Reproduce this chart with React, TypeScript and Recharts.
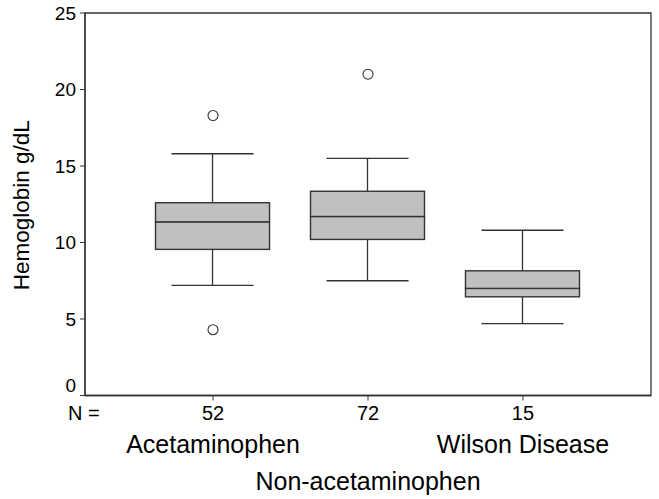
import React from 'react';
import { ComposedChart, Bar, Scatter, XAxis, YAxis, ReferenceArea } from 'recharts';

const categories = ['Acetaminophen', 'Non-acetaminophen', 'Wilson Disease'];
const nCounts = [52, 72, 15];
const whiskerLow = [7.2, 7.5, 4.7];
const q1Values = [9.55, 10.2, 6.45];
const medianValues = [11.35, 11.7, 7.0];
const q3Values = [12.6, 13.35, 8.15];
const whiskerHigh = [15.8, 15.5, 10.8];
const outlierGroup = [1, 1, 2];
const outlierValues = [18.3, 4.3, 21.0];
const yTicks = [0, 5, 10, 15, 20, 25];
const nameRow = [0, 1, 0];

const data = categories.map((c, i) => ({
  x: i + 1,
  name: c,
  n: nCounts[i],
  base: whiskerLow[i],
  lowW: q1Values[i] - whiskerLow[i],
  lowBox: medianValues[i] - q1Values[i],
  highBox: q3Values[i] - medianValues[i],
  highW: whiskerHigh[i] - q3Values[i],
}));

const outliers = outlierGroup.map((g, i) => ({ x: g, y: outlierValues[i] }));

const FONT = '"Liberation Sans", Arial, sans-serif';
const LINE = '#333';
const X_DOMAIN: [number, number] = [0.174, 3.826];

const LowWhisker = (props: any) => {
  const { x, y, width, height } = props;
  const cx = x + width / 2;
  const cap = width * 0.36;
  return (
    <g>
      <line x1={cx} x2={cx} y1={y} y2={y + height} stroke={LINE} strokeWidth={1.3} />
      <line x1={cx - cap} x2={cx + cap} y1={y + height} y2={y + height} stroke={LINE} strokeWidth={1.3} />
    </g>
  );
};

const HighWhisker = (props: any) => {
  const { x, y, width, height } = props;
  const cx = x + width / 2;
  const cap = width * 0.36;
  return (
    <g>
      <line x1={cx} x2={cx} y1={y} y2={y + height} stroke={LINE} strokeWidth={1.3} />
      <line x1={cx - cap} x2={cx + cap} y1={y} y2={y} stroke={LINE} strokeWidth={1.3} />
    </g>
  );
};

const BoxPart = (props: any) => {
  const { x, y, width, height } = props;
  return <rect x={x} y={y} width={width} height={height} fill="#c0c0c0" stroke={LINE} strokeWidth={1.4} />;
};

const Outlier = (props: any) => {
  const { cx, cy } = props;
  return <circle cx={cx} cy={cy} r={5} fill="#fff" stroke={LINE} strokeWidth={1.1} />;
};

const XTick = (props: any) => {
  const { x, y, payload, index } = props;
  const i = Math.round(payload.value) - 1;
  const row = nameRow[i];
  return (
    <g fontFamily={FONT} fill="#000">
      {index === 0 && (
        <text x={68} y={y + 17} fontSize={20} textAnchor="start" fill="#000">
          N =
        </text>
      )}
      <text x={x} y={y + 17} fontSize={20} textAnchor="middle" fill="#000">
        {nCounts[i]}
      </text>
      <text x={x} y={y + (row === 0 ? 50 : 87)} fontSize={25} textAnchor="middle" fill="#000">
        {categories[i]}
      </text>
    </g>
  );
};

const YTick = (props: any) => {
  const { x, y, payload } = props;
  const shift = payload.value === 0 ? -10 : 0;
  return (
    <text
      x={x}
      y={y + shift}
      textAnchor="end"
      dominantBaseline="central"
      fontSize={19}
      fontFamily={FONT}
      fill="#000"
    >
      {payload.value}
    </text>
  );
};

const YTitle = (props: any) => {
  const vb = props.viewBox || { x: 25, y: 13, width: 60, height: 382 };
  const cx = vb.x - 4;
  const cy = vb.y + vb.height / 2 + 1;
  return (
    <text
      x={cx}
      y={cy}
      transform={`rotate(-90, ${cx}, ${cy})`}
      textAnchor="middle"
      dominantBaseline="central"
      fontSize={22.5}
      fontFamily={FONT}
      fill="#000"
    >
      Hemoglobin g/dL
    </text>
  );
};

export default function App() {
  return (
    <div style={{ position: 'absolute', left: 0, top: 0, background: '#fff' }}>
      <ComposedChart
        width={659}
        height={499}
        data={data}
        margin={{ top: 13, right: 8, bottom: 13.5, left: 25 }}
        style={{ fontFamily: FONT }}
      >
        <XAxis
          type="number"
          dataKey="x"
          domain={X_DOMAIN}
          ticks={[1, 2, 3]}
          height={90}
          tickSize={5}
          axisLine={{ stroke: LINE, strokeWidth: 1.3 }}
          tickLine={{ stroke: LINE }}
          tick={<XTick />}
          interval={0}
        />
        <YAxis
          type="number"
          domain={[0, 25]}
          ticks={yTicks}
          width={60}
          tickSize={5}
          tickMargin={4}
          axisLine={{ stroke: LINE, strokeWidth: 1.3 }}
          tickLine={{ stroke: LINE }}
          tick={<YTick />}
          interval={0}
          label={<YTitle />}
        />
        <ReferenceArea
          x1={X_DOMAIN[0]}
          x2={X_DOMAIN[1]}
          y1={0}
          y2={25}
          fill="none"
          fillOpacity={0}
          stroke={LINE}
          strokeWidth={1.3}
          ifOverflow="visible"
        />
        <Bar dataKey="base" stackId="a" barSize={114} fill="none" isAnimationActive={false} shape={() => null} />
        <Bar dataKey="lowW" stackId="a" barSize={114} isAnimationActive={false} shape={<LowWhisker />} />
        <Bar dataKey="lowBox" stackId="a" barSize={114} isAnimationActive={false} shape={<BoxPart />} />
        <Bar dataKey="highBox" stackId="a" barSize={114} isAnimationActive={false} shape={<BoxPart />} />
        <Bar dataKey="highW" stackId="a" barSize={114} isAnimationActive={false} shape={<HighWhisker />} />
        <Scatter data={outliers} dataKey="y" isAnimationActive={false} shape={<Outlier />} />
      </ComposedChart>
    </div>
  );
}
